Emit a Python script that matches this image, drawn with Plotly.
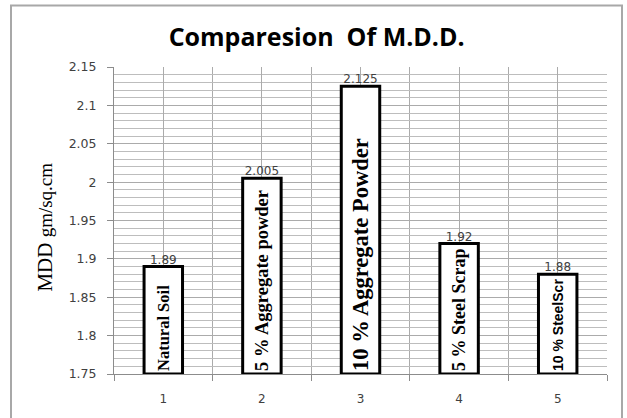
import plotly.graph_objects as go

# Maximum dry density for each soil mix
positions = [1, 2, 3, 4, 5]
mix_names = ["Natural Soil", "5 % Aggregate powder", "10 % Aggregate Powder",
             "5 % Steel Scrap", "10 % SteelScr"]
mdd_values = [1.89, 2.005, 2.125, 1.92, 1.88]
y_tick_vals = [1.75, 1.8, 1.85, 1.9, 1.95, 2.0, 2.05, 2.1, 2.15]
y_tick_text = ["1.75", "1.8", "1.85", "1.9", "1.95", "2", "2.05", "2.1", "2.15"]
x_tick_text = ["1", "2", "3", "4", "5"]

AXIS_MIN = 1.75
AXIS_MAX = 2.15

name_fonts = ["Liberation Serif", "Liberation Serif", "Liberation Serif",
              "Liberation Serif", "Liberation Sans"]
name_sizes = [16.5, 18.5, 22.5, 18, 14]

fig = go.Figure()

fig.add_trace(go.Bar(
    x=positions,
    y=[v - AXIS_MIN for v in mdd_values],
    base=[AXIS_MIN] * len(mdd_values),
    width=0.39,
    marker=dict(color="white", line=dict(color="black", width=3)),
    text=[f"<b>{n}</b>" for n in mix_names],
    textposition="inside",
    insidetextanchor="start",
    textangle=-90,
    textfont=dict(family=name_fonts, size=name_sizes, color="black"),
    hoverinfo="skip",
    showlegend=False,
))

fig.add_trace(go.Scatter(
    x=positions,
    y=mdd_values,
    mode="text",
    text=[str(v) for v in mdd_values],
    textposition="top center",
    textfont=dict(family="DejaVu Sans", size=12, color="#404040"),
    hoverinfo="skip",
    showlegend=False,
))

grid_col = "#ababab"

fig.update_xaxes(
    range=[0.5, 5.5],
    tickvals=positions,
    ticktext=x_tick_text,
    ticks="",
    showgrid=True,
    gridcolor=grid_col,
    gridwidth=1,
    zeroline=False,
    showline=True,
    linecolor="#8c8c8c",
    linewidth=1,
    mirror=False,
    ticklabelstandoff=14,
    tickfont=dict(family="DejaVu Sans", size=12, color="#404040"),
    minor=dict(tick0=0.5, dtick=1, ticks="outside", ticklen=6,
               tickcolor="#8c8c8c", showgrid=True, gridcolor=grid_col),
)

fig.update_yaxes(
    range=[AXIS_MIN, AXIS_MAX],
    tickvals=y_tick_vals,
    ticktext=y_tick_text,
    ticks="outside",
    ticklen=6,
    tickcolor="#8c8c8c",
    showgrid=True,
    gridcolor=grid_col,
    zeroline=False,
    showline=True,
    linecolor="#8c8c8c",
    linewidth=1,
    ticklabelstandoff=8,
    tickfont=dict(family="DejaVu Sans", size=12.5, color="#404040"),
    minor=dict(dtick=0.01, showgrid=True, gridcolor="#bdbdbd", ticks=""),
)

fig.add_annotation(
    text="MDD <span style='font-size:19px'>gm/sq.cm</span>",
    xref="paper", yref="paper",
    x=-0.14, y=0.48,
    xanchor="center", yanchor="middle",
    textangle=-90,
    showarrow=False,
    font=dict(family="Liberation Serif", size=21, color="black"),
)

# outer chart frame
fig.add_shape(
    type="rect", xref="paper", yref="paper",
    x0=(11 - 114) / 493, x1=(622 - 114) / 493,
    y0=-0.2, y1=(377 - 5) / 310,
    line=dict(color="#a8a8a8", width=2),
    fillcolor="rgba(0,0,0,0)",
    layer="below",
)

fig.update_layout(
    width=627,
    height=418,
    margin=dict(l=114, r=20, t=67, b=41),
    paper_bgcolor="white",
    plot_bgcolor="white",
    title=dict(
        text="<b>Comparesion  Of M.D.D.</b>",
        x=0.505, xanchor="center",
        y=1 - 37 / 418, yanchor="middle",
        font=dict(family="Open Sans", size=25, color="black"),
    ),
)

fig.write_html("out.html")
